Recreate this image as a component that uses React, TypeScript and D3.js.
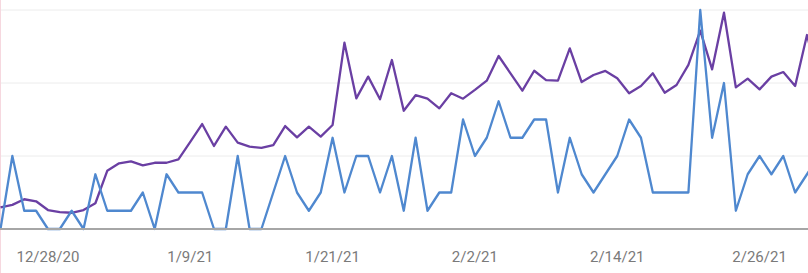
import React from "react";
import * as d3 from "d3";

const startDate = new Date(2020, 11, 24);
const blueValues = [
  0, 4, 1, 1, 0, 0, 1, 0, 3, 1, 1, 1, 2, 0, 3, 2, 2, 2, 0, 0, 4, 0, 0, 2,
  4, 2, 1, 2, 5, 2, 4, 4, 2, 4, 1, 5, 1, 2, 2, 6, 4, 5, 7, 5, 5, 6, 6, 2,
  5, 3, 2, 3, 4, 6, 5, 2, 2, 2, 2, 12, 5, 8, 1, 3, 4, 3, 4, 2, 3, 4,
];
const purpleValues = [
  1.19, 1.32, 1.63, 1.52, 1.04, 0.93, 0.89, 1.04, 1.41, 3.19, 3.6, 3.71,
  3.49, 3.63, 3.63, 3.82, 4.77, 5.75, 4.55, 5.61, 4.73, 4.51, 4.44, 4.6,
  5.64, 5.02, 5.61, 5.06, 5.7, 10.21, 7.16, 8.35, 7.11, 9.26, 6.48, 7.33,
  7.14, 6.61, 7.44, 7.14, 7.62, 8.13, 9.48, 8.53, 7.58, 8.67, 8.16, 8.13,
  9.9, 8.05, 8.44, 8.66, 8.26, 7.44, 7.84, 8.53, 7.47, 7.89, 8.99, 10.87,
  8.75, 11.85, 7.76, 8.24, 7.65, 8.35, 8.6, 7.84, 10.63, 8.1,
];
const gridValues = [4, 8, 12];
const tickDates = [
  new Date(2020, 11, 28),
  new Date(2021, 0, 9),
  new Date(2021, 0, 21),
  new Date(2021, 1, 2),
  new Date(2021, 1, 14),
  new Date(2021, 1, 26),
];
const tickLabels = ["12/28/20", "1/9/21", "1/21/21", "2/2/21", "2/14/21", "2/26/21"];

const W = 808;
const H = 273;

export default function App() {
  const dayMs = 86400000;
  const dates = blueValues.map((_, i) => new Date(startDate.getTime() + i * dayMs));
  const x = d3
    .scaleTime()
    .domain([startDate, new Date(startDate.getTime() + 68 * dayMs)])
    .range([0.5, 807]);
  const y = d3.scaleLinear().domain([0, 12]).range([229, 10]);

  const line = d3
    .line<number>()
    .x((_, i) => x(dates[i]))
    .y((d) => y(d));

  return (
    <svg
      width={W}
      height={H}
      style={{ position: "absolute", left: 0, top: 0, overflow: "hidden", background: "#fff" }}
    >
      {gridValues.map((g) => (
        <line key={g} x1={0} x2={W} y1={y(g)} y2={y(g)} stroke="#ececec" strokeWidth={1} />
      ))}
      <rect x={0} y={0} width={1} height={H} fill="#f6d8df" />
      <path d={line(purpleValues) || ""} fill="none" stroke="#6a3fa3" strokeWidth={2.3} strokeLinejoin="round" />
      <path d={line(blueValues) || ""} fill="none" stroke="#4f88cf" strokeWidth={2.3} strokeLinejoin="round" />
      <line x1={0} x2={W} y1={y(0)} y2={y(0)} stroke="#a6a6a6" strokeWidth={2} />
      {tickDates.map((d, i) => (
        <text
          key={i}
          x={x(d)}
          y={262}
          textAnchor="middle"
          fontFamily="Roboto, sans-serif"
          fontSize={15}
          fill="#7a7a7a"
        >
          {tickLabels[i]}
        </text>
      ))}
    </svg>
  );
}
